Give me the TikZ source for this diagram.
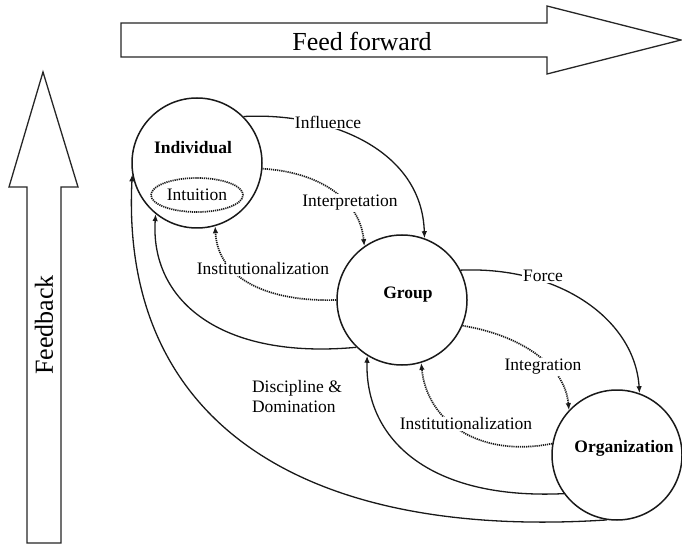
\documentclass[tikz,border=0pt]{standalone}
\usepackage{fontspec}
\setmainfont{Liberation Serif}
\usetikzlibrary{arrows.meta,shapes.geometric}
\begin{document}
\begin{tikzpicture}[x=1pt,y=-1pt,
  bigarrow/.style={draw=black!85,line width=1.3pt,fill=white,line join=miter},
  bigtext/.style={font=\fontsize{26}{30}\selectfont,inner sep=0pt},
  stage/.style={circle,draw=black!90,line width=1.5pt,minimum size=130pt,inner sep=0pt},
  stagename/.style={font=\bfseries\fontsize{17.5}{20}\selectfont,inner sep=0pt},
  lab/.style={font=\fontsize{17.5}{20}\selectfont,fill=white,inner sep=1pt},
  flow/.style={line width=1.3pt,draw=black!90,-{Latex[length=7pt,width=5.5pt]}},
  dots/.style={line width=1.7pt,dash pattern=on 1.2pt off 0.9pt},
  soft/.style={flow,dots}]

\useasboundingbox (0,0) rectangle (682,545);

% broad arrows: feed forward (top) and feedback (left)
\draw[bigarrow] (121,23) -- (547,23) -- (547,6) -- (681,40) -- (547,74)
  -- (547,57) -- (121,57) -- cycle;
\node[bigtext] (ff) at (362,41) {Feed forward};
\draw[bigarrow] (27,543) -- (27,187) -- (9,187) -- (43,72) -- (78,187)
  -- (61,187) -- (61,543) -- cycle;
\node[bigtext,rotate=90] (fb) at (44,325) {Feedback};

% the three levels
\node[stage] (ind) at (197,163) {};
\node[stage] (grp) at (402,300) {};
\node[stage] (org) at (617,455) {};
\node[stagename] (indname) at (193,148) {Individual};
\node[stagename] (grpname) at (408,295) {Group};
\node[stagename] (orgname) at (624,448) {Organization};
\node[ellipse,draw=black!90,dots,
  minimum width=92pt,minimum height=34pt,inner sep=0pt,
  font=\fontsize{17.5}{20}\selectfont] (intu) at (197,195) {Intuition};

% feed-forward flows
\draw[flow] (ind.45) .. controls (330,112) and (422,150) .. (grp.70);
\draw[soft] (ind.-5) .. controls (320,172) and (360,200) .. (grp.125);
\draw[flow] (grp.27) .. controls (560,266) and (635,320) .. (org.70);
\draw[soft] (grp.-23) .. controls (520,335) and (565,365) .. (org.137);

% feedback flows
\draw[soft] (grp.180) .. controls (270,302) and (218,280) .. (ind.-74);
\draw[flow] (grp.226) .. controls (220,360) and (150,300) .. (ind.231);
\draw[soft] (org.170) .. controls (480,458) and (427,422) .. (grp.-73);
\draw[flow] (org.216) .. controls (430,500) and (365,440) .. (grp.238);
\draw[flow] (org.261) .. controls (300,540) and (120,420) .. (ind.190);

% flow labels
\node[lab] (linf) at (328,122) {Influence};
\node[lab] (lint) at (350,203) {Interpretation};
\node[lab] (linst1) at (263,269) {Institutionalization};
\node[lab] (lforce) at (543,276) {Force};
\node[lab] (lintg) at (543,367) {Integration};
\node[lab] (linst2) at (466,424) {Institutionalization};
\node[lab,align=left,inner sep=0pt] (ldisc) at (297,397) {Discipline \&\\Domination};

\end{tikzpicture}
\end{document}
